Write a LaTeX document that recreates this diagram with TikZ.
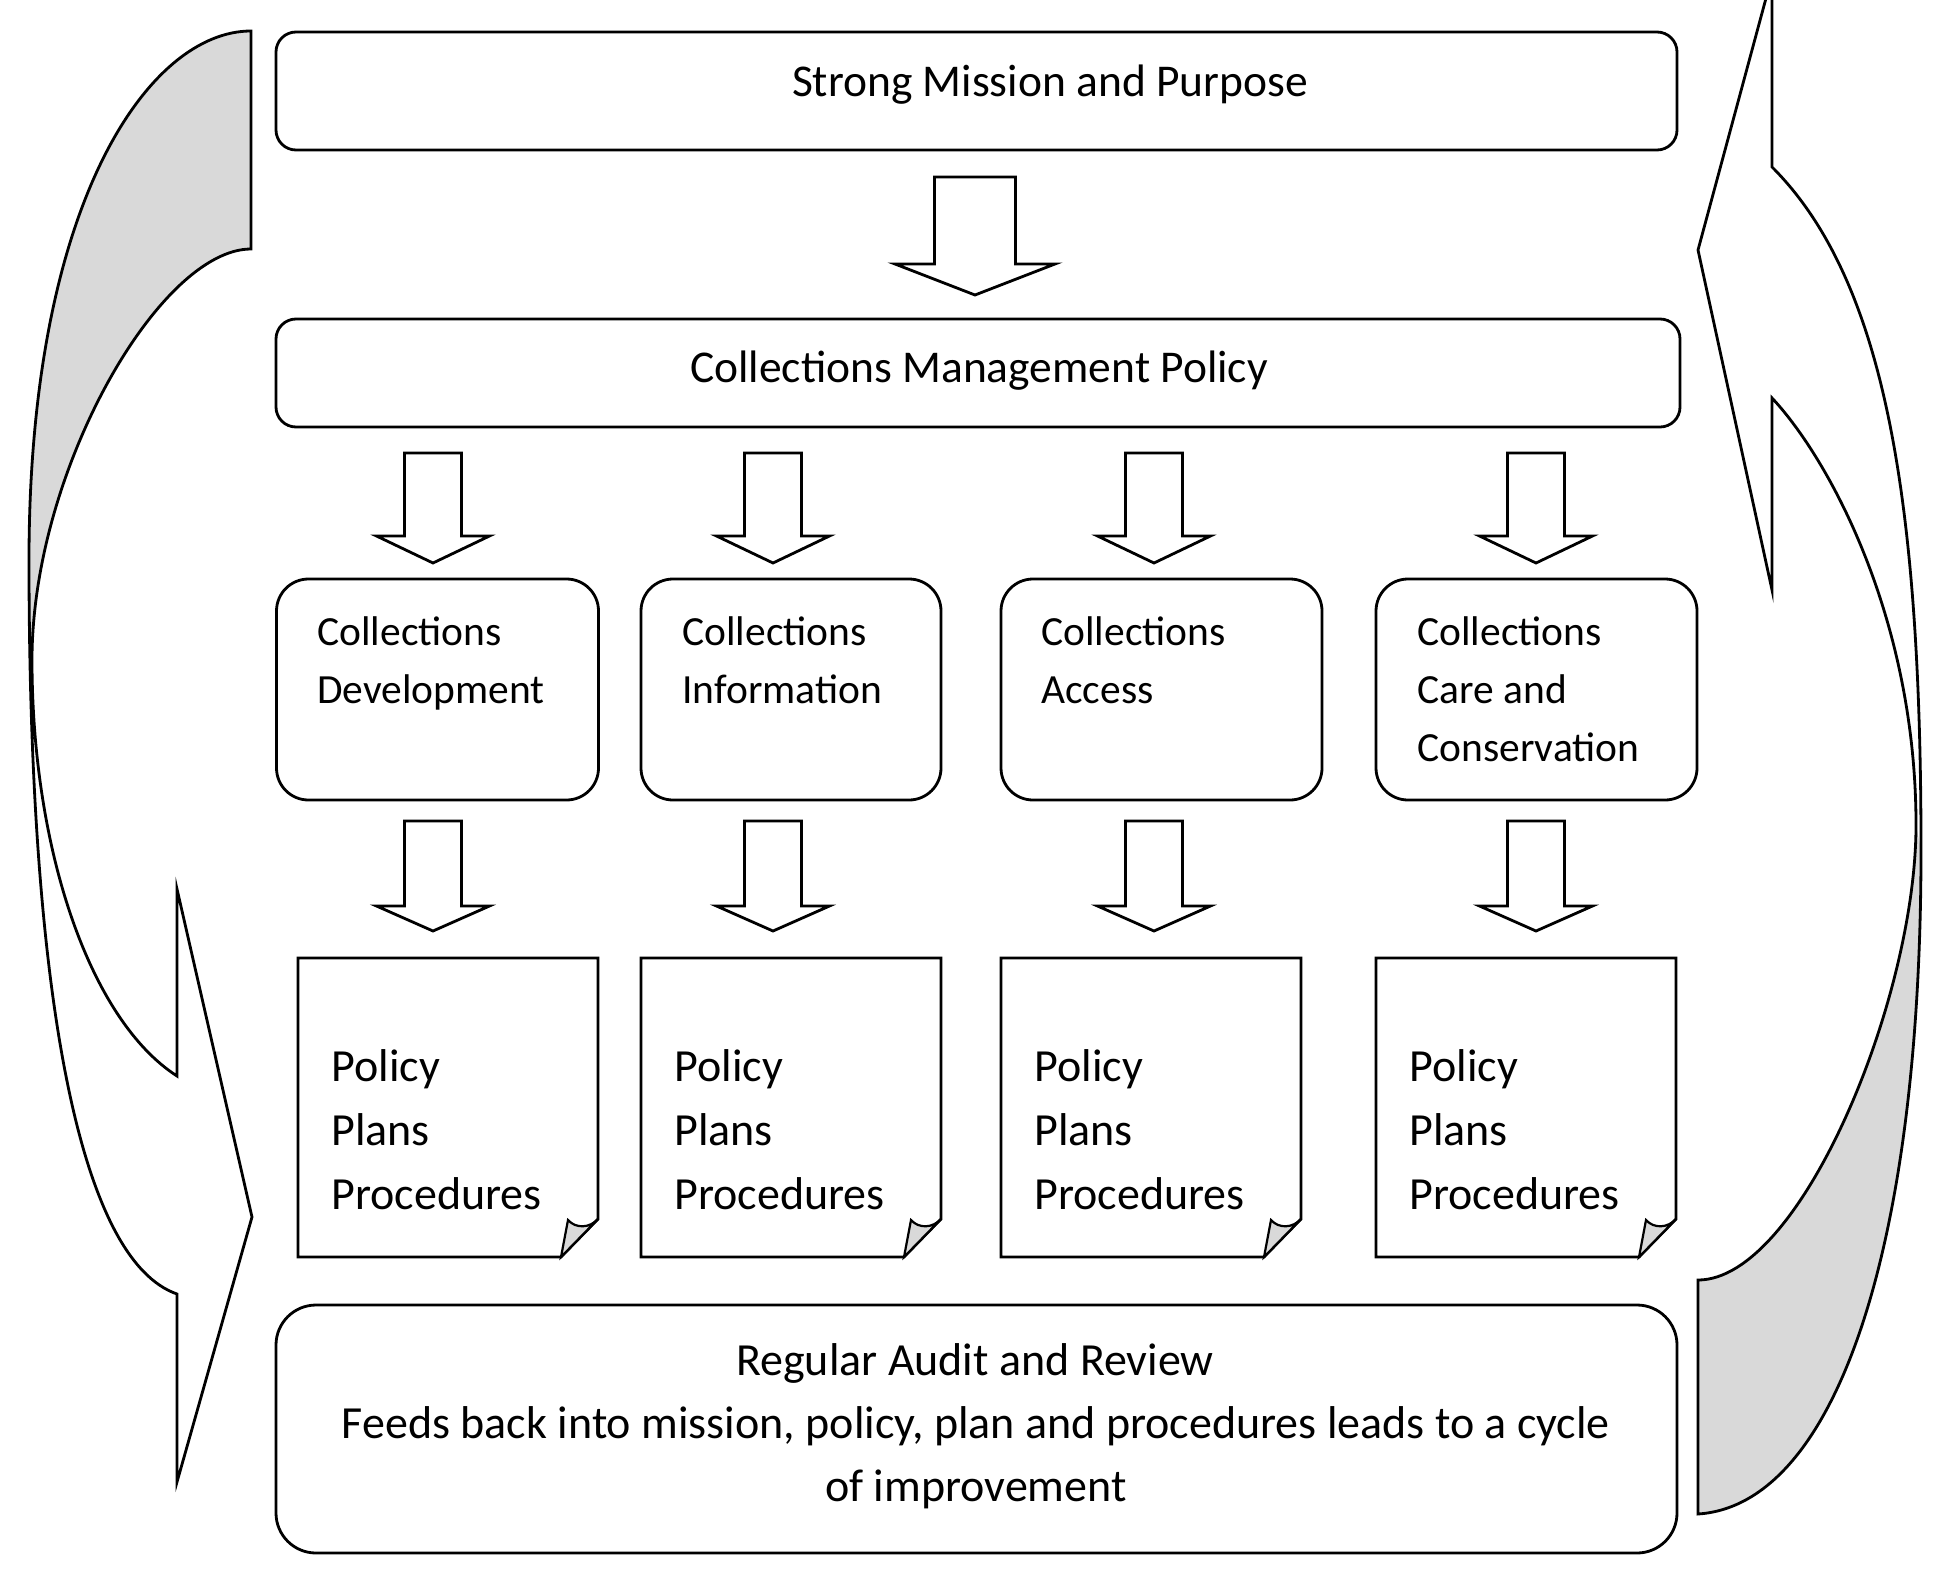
\documentclass[tikz,border=0pt]{standalone}
\usepackage{fontspec}
\setmainfont{Carlito}
\definecolor{shade}{RGB}{217,217,217}
\begin{document}
\begin{tikzpicture}[x=1pt,y=-1pt,line width=2.8pt,
  shp/.style={draw=black, line width=2.8pt},
  rbox/.style={shp, rectangle, rounded corners=#1, inner sep=0pt, outer sep=0pt},
  bigtxt/.style={font=\fontsize{45.5}{55}\selectfont, inner sep=0pt, anchor=base},
  audtxt/.style={font=\fontsize{46}{55}\selectfont, inner sep=0pt, anchor=base},
  midtxt/.style={font=\fontsize{41.5}{50}\selectfont, inner sep=0pt, anchor=base west},
  doctxt/.style={font=\fontsize{46}{55}\selectfont, inner sep=0pt, anchor=base west},
  back/.style={fill=shade, draw=none},
  pics/blockdown/.style args={#1/#2/#3/#4}{code={
    \draw[shp, line join=miter] (-#1,0) -- (#1,0) -- (#1,#3) -- (#2,#3) -- (0,#4) -- (-#2,#3) -- (-#1,#3) -- cycle;}}
]
\useasboundingbox (0,0) rectangle (1945,1582);
\clip (0,0) rectangle (1945,1582);

% ---------- left curved arrow ----------
\fill[back] (251,31) .. controls (150,31) and (29,200) .. (29,560) -- (30,660) -- (32,660)
  .. controls (32,470) and (160,249) .. (251,249) -- cycle;
\draw[shp, line join=miter] (251,31) .. controls (150,31) and (29,200) .. (29,560)
  .. controls (29,1000) and (80,1260) .. (177,1294) -- (177,1482) -- (252,1217) -- (177,889)
  -- (177,1076) .. controls (90,1020) and (32,850) .. (32,660)
  .. controls (32,470) and (160,249) .. (251,249) -- cycle;

% ---------- right curved arrow ----------
\fill[back] (1916,825) .. controls (1916,1000) and (1800,1280) .. (1698,1280) -- (1698,1514)
  .. controls (1835,1505) and (1921,1250) .. (1921,850) -- cycle;
\draw[shp, line join=miter] (1772,167) .. controls (1885,280) and (1921,500) .. (1921,850)
  .. controls (1921,1250) and (1835,1505) .. (1698,1514) -- (1698,1280)
  .. controls (1800,1280) and (1916,1000) .. (1916,825)
  .. controls (1916,620) and (1830,460) .. (1772,398) -- (1772,590) -- (1698,250) -- (1772,-24) -- cycle;

% ---------- top boxes ----------
\node[rbox=20pt, minimum width=1401pt, minimum height=118pt] (mission) at (976.5,91) {};
\node[bigtxt] (missiontext) at (1050,96) {Strong Mission and Purpose};

\pic (bigarrow) at (975,177) {blockdown=40.5/80/87/118};

\node[rbox=20pt, minimum width=1404pt, minimum height=108pt] (cmp) at (978,373) {};
\node[bigtxt] (cmptext) at (979,382) {Collections Management Policy};

% ---------- arrows row 1 ----------
\pic (a1) at (433,453) {blockdown=28.5/56.5/83/110};
\pic (a2) at (773,453) {blockdown=28.5/56.5/83/110};
\pic (a3) at (1154,453) {blockdown=28.5/56.5/83/110};
\pic (a4) at (1536,453) {blockdown=28.5/56.5/83/110};

% ---------- middle boxes ----------
\node[rbox=32pt, minimum width=322pt, minimum height=221pt] (dev) at (437.5,689.5) {};
\node[rbox=32pt, minimum width=300pt, minimum height=221pt] (info) at (791,689.5) {};
\node[rbox=32pt, minimum width=321pt, minimum height=221pt] (access) at (1161.5,689.5) {};
\node[rbox=32pt, minimum width=321pt, minimum height=221pt] (care) at (1536.5,689.5) {};

\node[midtxt] (dev1) at (316,645) {Collections};
\node[midtxt] (dev2) at (316,703) {Development};
\node[midtxt] (info1) at (681,645) {Collections};
\node[midtxt] (info2) at (681,703) {Information};
\node[midtxt] (acc1) at (1040,645) {Collections};
\node[midtxt] (acc2) at (1040,703) {Access};
\node[midtxt] (care1) at (1416,645) {Collections};
\node[midtxt] (care2) at (1416,703) {Care and};
\node[midtxt] (care3) at (1416,761) {Conservation};

% ---------- arrows row 2 ----------
\pic (b1) at (433,821) {blockdown=28.5/56.5/85/110};
\pic (b2) at (773,821) {blockdown=28.5/56.5/85/110};
\pic (b3) at (1154,821) {blockdown=28.5/56.5/85/110};
\pic (b4) at (1536,821) {blockdown=28.5/56.5/85/110};

% ---------- documents ----------
\foreach \L/\nm in {298/d1,641/d2,1001/d3,1376/d4}{
  \draw[shp, line join=miter] (\L,958) -- (\L+300,958) -- (\L+300,1219) -- (\L+263,1257) -- (\L,1257) -- cycle;
  \filldraw[fill=shade, draw=black, line width=2.2pt, line join=miter] (\L+263,1257) -- (\L+270,1220)
     .. controls (\L+278,1229) and (\L+292,1228) .. (\L+300,1219) -- cycle;
  \node[doctxt] (\nm p1) at (\L+32,1081) {Policy};
  \node[doctxt] (\nm p2) at (\L+32,1145) {Plans};
  \node[doctxt] (\nm p3) at (\L+32,1209) {Procedures};
}

% ---------- bottom box ----------
\node[rbox=40pt, minimum width=1401pt, minimum height=248pt] (audit) at (976.5,1429) {};
\node[audtxt] (audit1) at (975,1375) {Regular Audit and Review};
\node[audtxt] (audit2) at (976,1438) {Feeds back into mission, policy, plan and procedures leads to a cycle};
\node[audtxt] (audit3) at (976,1501) {of improvement};
\end{tikzpicture}
\end{document}
